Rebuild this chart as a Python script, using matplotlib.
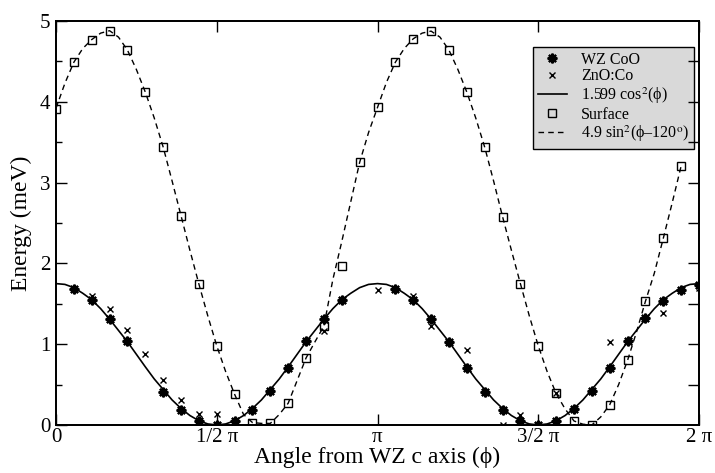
"""
Anisotropy energy vs. angle from the wurtzite c axis, with cos^2 / sin^2 fits.
"""

import matplotlib
matplotlib.use("Agg")
import matplotlib.pyplot as plt
import numpy as np

plt.rcParams["font.family"] = ["Liberation Serif", "DejaVu Serif"]
plt.rcParams["mathtext.fontset"] = "stix"

# WZ CoO points (angle in degrees, energy in meV)
wz_deg = [10, 20, 30, 40, 60, 70, 80, 90, 100, 110, 120, 130, 140, 150, 160,
          190, 200, 210, 220, 230, 240, 250, 260, 270, 280, 290, 300, 310, 320,
          330, 340, 350, 360]
wz_energy = [1.68, 1.55, 1.315, 1.035, 0.41, 0.19, 0.05, 0.0, 0.05, 0.19, 0.425,
             0.71, 1.04, 1.315, 1.547, 1.68, 1.55, 1.315, 1.03, 0.71, 0.41, 0.19,
             0.05, 0.0, 0.05, 0.2, 0.42, 0.71, 1.04, 1.32, 1.54, 1.67, 1.73]

# ZnO:Co points
zno_deg = [20, 30, 40, 50, 60, 70, 80, 90, 150, 180, 200, 210, 230, 250, 260,
           280, 310, 340, 360]
zno_energy = [1.60, 1.44, 1.175, 0.88, 0.557, 0.31, 0.136, 0.136, 1.163, 1.67,
              1.60, 1.225, 0.93, 0.0, 0.124, 0.40, 1.027, 1.38, 1.69]

# Surface points, every 10 degrees from 0 to 350
surf_deg = list(range(0, 360, 10))
surf_energy = [3.915, 4.49, 4.77, 4.88, 4.64, 4.12, 3.44, 2.59, 1.745, 0.98,
               0.38, 0.02, 0.02, 0.27, 0.83, 1.225, 1.97, 3.25, 3.93, 4.49,
               4.78, 4.875, 4.64, 4.12, 3.44, 2.58, 1.75, 0.98, 0.39, 0.05,
               0.0, 0.25, 0.80, 1.53, 2.31, 3.205]

# solid fit curve read every 5 degrees over one period (0..180), repeats after pi
cos_fit_half = [1.75, 1.74, 1.70, 1.63, 1.55, 1.44, 1.31, 1.17, 1.03, 0.875,
                0.72, 0.57, 0.44, 0.31, 0.205, 0.117, 0.053, 0.013, 0.0,
                0.013, 0.053, 0.117, 0.205, 0.31, 0.44, 0.57, 0.72, 0.875,
                1.03, 1.17, 1.31, 1.44, 1.55, 1.63, 1.70, 1.74, 1.75]

# dashed fit curve read every 5 degrees from 0 to 350
sin_fit_deg = list(range(0, 355, 5))
sin_fit = [3.92, 4.23, 4.49, 4.66, 4.77, 4.85, 4.88, 4.80, 4.64, 4.40,
           4.12, 3.80, 3.44, 3.02, 2.59, 2.16, 1.745, 1.35, 0.98, 0.66,
           0.38, 0.13, 0.03, 0.02, 0.02, 0.13, 0.27, 0.55, 0.83, 1.03,
           1.225, 1.80, 2.27, 2.76, 3.25, 3.62, 3.93, 4.24, 4.49, 4.66,
           4.78, 4.85, 4.875, 4.80, 4.64, 4.40, 4.12, 3.80, 3.44, 3.02,
           2.58, 2.16, 1.75, 1.35, 0.98, 0.66, 0.39, 0.20, 0.05, 0.01,
           0.0, 0.10, 0.25, 0.50, 0.80, 1.15, 1.53, 1.88, 2.31, 2.75,
           3.205]

x_tick_labels = ["0", "1/2 \u03c0", "\u03c0", "3/2 \u03c0", "2 \u03c0"]

cos_fit_deg = list(range(0, 365, 5))
cos_fit = cos_fit_half + cos_fit_half[1:]

fig = plt.figure(figsize=(7.15, 4.73), dpi=100)
ax = fig.add_axes([56 / 715, 48 / 473, 643 / 715, 404 / 473])

ax.plot(np.deg2rad(cos_fit_deg), cos_fit, color="black", lw=1.2,
        label="1.599 cos$^2$(\u03d5)", zorder=2)
ax.plot(np.deg2rad(sin_fit_deg), sin_fit, color="black", lw=1.0,
        dashes=(4, 3), label="4.9 sin$^2$(\u03d5\u2013120$^{\\rm o}$)", zorder=2)
ax.plot(np.deg2rad(wz_deg), wz_energy, ls="none", marker=(8, 2, 0), ms=7,
        mew=1.6, color="black", label="WZ CoO", zorder=3)
ax.plot(np.deg2rad(zno_deg), zno_energy, ls="none", marker="x", ms=5,
        mew=1.0, color="black", label="ZnO:Co", zorder=3)
ax.plot(np.deg2rad(surf_deg), surf_energy, ls="none", marker="s", ms=6,
        mew=1.0, mfc="none", color="black", label="Surface", zorder=3)

ax.set_xlim(0, 2 * np.pi)
ax.set_ylim(0, 5)
ax.set_xticks(np.arange(5) * np.pi / 2)
ax.set_xticklabels(x_tick_labels)
ax.set_yticks(np.arange(0, 6, 1))
ax.set_yticks(np.arange(0.5, 5, 1), minor=True)
ax.tick_params(which="major", direction="in", length=8, width=1,
               top=True, right=False, labelsize=15)
ax.tick_params(axis="x", pad=2)
ax.tick_params(axis="y", pad=4)
ax.tick_params(which="minor", direction="in", length=4, width=1,
               right=False, top=False, bottom=False)
for side in ax.spines.values():
    side.set_linewidth(1.3)

# right-hand ticks are all the same length, every 0.5
ax_r = ax.twinx()
ax_r.set_ylim(0, 5)
ax_r.set_yticks(np.arange(0.5, 5, 0.5))
ax_r.tick_params(direction="in", length=8, width=1, labelright=False)
for side in ax_r.spines.values():
    side.set_linewidth(1.3)

ax.set_xlabel("Angle from WZ c axis (\u03d5)", fontsize=17, labelpad=0)
ax.set_ylabel("Energy (meV)", fontsize=17, labelpad=6)

handles, labels = ax.get_legend_handles_labels()
order = [2, 3, 0, 4, 1]
leg = ax.legend([handles[i] for i in order], [labels[i] for i in order],
                loc="upper right", bbox_to_anchor=(0.992, 0.936),
                fontsize=11.5, frameon=True, fancybox=False, framealpha=1,
                facecolor="#d9d9d9", edgecolor="black", handlelength=1.8,
                handletextpad=0.9, labelspacing=0.05, borderpad=0.3,
                borderaxespad=0)
leg.get_frame().set_linewidth(1.0)

fig.savefig("out.png", dpi=100)
